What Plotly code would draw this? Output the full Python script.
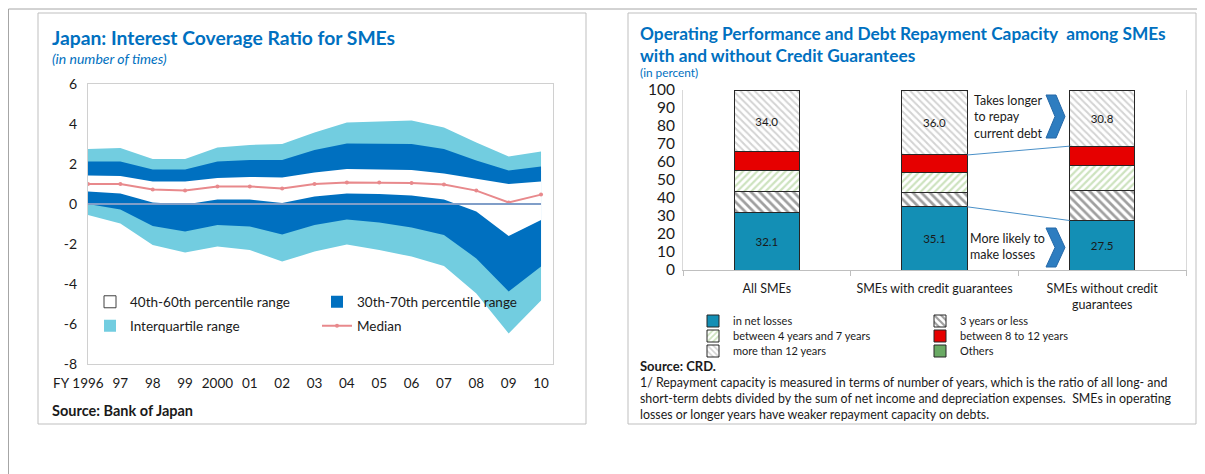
import plotly.graph_objects as go

# ---- left chart: Japan interest coverage ratio (number of times) ----
years = list(range(1996, 2011))
year_labels = ["1996", "97", "98", "99", "2000", "01", "02", "03", "04", "05",
               "06", "07", "08", "09", "10"]
p75 = [2.75, 2.8, 2.25, 2.25, 2.83, 2.95, 3.0, 3.58, 4.08, 4.12, 4.17, 3.83, 3.08, 2.38, 2.63]
p70 = [2.13, 2.13, 1.72, 1.72, 2.12, 2.2, 2.2, 2.7, 3.03, 3.03, 3.0, 2.75, 2.17, 1.67, 1.88]
p60 = [1.43, 1.4, 1.13, 1.12, 1.3, 1.35, 1.33, 1.58, 1.75, 1.72, 1.7, 1.53, 1.28, 1.0, 1.12]
median = [1.0, 1.0, 0.72, 0.67, 0.87, 0.88, 0.78, 1.0, 1.08, 1.07, 1.05, 0.97, 0.67, 0.08, 0.47]
p40 = [0.62, 0.53, 0.08, -0.03, 0.22, 0.22, 0.05, 0.37, 0.53, 0.5, 0.42, 0.22, -0.38, -1.6, -0.8]
p30 = [0.0, -0.27, -1.1, -1.38, -1.05, -1.13, -1.52, -1.05, -0.77, -0.93, -1.17, -1.55, -2.72, -4.38, -3.13]
p25 = [-0.55, -0.97, -2.05, -2.43, -2.13, -2.3, -2.88, -2.38, -2.02, -2.3, -2.63, -3.1, -4.47, -6.47, -4.83]
y_ticks = [-8, -6, -4, -2, 0, 2, 4, 6]

# ---- right chart: repayment capacity (percent) ----
groups = ["All SMEs", "SMEs with credit guarantees", "SMEs without credit<br>guarantees"]
net_losses = [32.1, 35.1, 27.5]
yrs_3 = [11.4, 8.0, 16.9]
yrs_4_7 = [11.7, 11.0, 13.5]
yrs_8_12 = [10.4, 9.8, 10.9]
yrs_12 = [34.0, 36.0, 30.8]
others = [0.4, 0.1, 0.4]

W, H = 1205, 474
OFF = 8  # page body margin
FONT = "Lato"
BLUE = "#0070C0"
LIGHT = "#72CDE0"


def px(x):
    return (x - OFF) / W


def py(y):
    return 1 - (y - OFF) / H


fig = go.Figure()

# bands: light blue 25-75, dark blue 30-70, white 40-60
for lo, hi, col in [(p25, p75, LIGHT), (p30, p70, BLUE), (p40, p60, "white")]:
    fig.add_trace(go.Scatter(x=years, y=lo, mode="lines", line=dict(width=0),
                             showlegend=False, hoverinfo="skip"))
    fig.add_trace(go.Scatter(x=years, y=hi, mode="lines", line=dict(width=0),
                             fill="tonexty", fillcolor=col, showlegend=False))

# legend-only entries for the left chart
fig.add_trace(go.Bar(x=[None], y=[None], name="40th-60th percentile range",
                     marker=dict(color="white", line=dict(color="#404040", width=1)),
                     legend="legend"))
fig.add_trace(go.Bar(x=[None], y=[None], name="30th-70th percentile range",
                     marker=dict(color=BLUE, line=dict(width=0)), legend="legend"))
fig.add_trace(go.Bar(x=[None], y=[None], name="Interquartile range",
                     marker=dict(color=LIGHT, line=dict(width=0)), legend="legend2"))

fig.add_trace(go.Scatter(x=years, y=median, mode="lines+markers", name="Median",
                         line=dict(color="#E8898C", width=2),
                         marker=dict(size=4, color="#E8898C"), legend="legend2"))

# stacked bars on the right
gx = [0, 1, 2]
series = [
    ("in net losses", net_losses, dict(color="#138FB5"), True, "legend3"),
    ("3 years or less", yrs_3, dict(color="white", pattern=dict(shape="\\", fgcolor="#404040", bgcolor="white", size=6, solidity=0.45)), False, "legend3"),
    ("between 4 years and 7 years", yrs_4_7, dict(color="white", pattern=dict(shape="/", fgcolor="#9CC77F", bgcolor="white", size=5, solidity=0.45)), False, "legend4"),
    ("between 8 to 12 years", yrs_8_12, dict(color="#E60000"), False, "legend4"),
    ("more than 12 years", yrs_12, dict(color="white", pattern=dict(shape="\\", fgcolor="#A8A8A8", bgcolor="white", size=5, solidity=0.4)), True, "legend5"),
    ("Others", others, dict(color="#6AAA64"), False, "legend5"),
]
for name, vals, mk, labelled, lg in series:
    mk["line"] = dict(color="#262626", width=1)
    fig.add_trace(go.Bar(
        x=gx, y=vals, name=name, marker=mk, width=0.39, xaxis="x2", yaxis="y2",
        text=[f"{v:.1f}" for v in vals] if labelled else None,
        textposition="inside" if labelled else "none", insidetextanchor="middle",
        textangle=0, textfont=dict(size=11.5, color="#1a1a1a", family=FONT),
        legend=lg))

# connector lines between 2nd and 3rd bar
half = 0.39 / 2
top_812 = [a + b + c + d for a, b, c, d in zip(net_losses, yrs_3, yrs_4_7, yrs_8_12)]
for ys in (top_812, net_losses):
    fig.add_trace(go.Scatter(x=[1 + half, 2 - half], y=[ys[1], ys[2]], mode="lines",
                             line=dict(color="#4A90C8", width=1), showlegend=False,
                             xaxis="x2", yaxis="y2"))

fig.update_layout(
    width=W, height=H, margin=dict(l=0, r=0, t=0, b=0, pad=0),
    paper_bgcolor="white", plot_bgcolor="white",
    font=dict(family=FONT, color="#1a1a1a"),
    barmode="stack",
    xaxis=dict(domain=[px(88), px(553)], range=[1996, 2010.37], tickmode="array",
               tickvals=years, ticktext=year_labels, tickangle=0,
               tickfont=dict(family=FONT, size=13.5, color="#1a1a1a"),
               showgrid=False, zeroline=False, showline=True, mirror=True,
               linecolor="#D0D0D0", ticks="", ticklabelstandoff=7, automargin=False),
    yaxis=dict(domain=[py(364), py(84)], range=[-8, 6], tickmode="array",
               tickvals=y_ticks, ticktext=[str(v) for v in y_ticks],
               tickfont=dict(family=FONT, size=14, color="#1a1a1a"),
               showgrid=False, zeroline=False, showline=True, mirror=True,
               linecolor="#D0D0D0", ticks="", ticklabelstandoff=7, automargin=False),
    xaxis2=dict(domain=[px(683), px(1186)], range=[-0.5, 2.5], tickmode="array",
                tickvals=gx, ticktext=groups, anchor="y2", tickangle=0,
                tickfont=dict(family=FONT, size=12.5, color="#1a1a1a"),
                showgrid=False, zeroline=False, showline=True, linecolor="#BFBFBF",
                ticks="", ticklabelstandoff=7, automargin=False,
                minor=dict(tickvals=[-0.5, 0.5, 1.5, 2.5], ticks="outside",
                           ticklen=5, tickcolor="#BFBFBF")),
    yaxis2=dict(domain=[py(270), py(90)], range=[0, 100], dtick=10, anchor="x2",
                tickfont=dict(family=FONT, size=15.5, color="#1a1a1a"),
                showgrid=False, zeroline=False, showline=True, mirror=True,
                linecolor="#D9D9D9", ticks="", ticklabelstandoff=4, automargin=False),
)

leg = dict(orientation="h", bgcolor="rgba(0,0,0,0)", xanchor="left", yanchor="middle",
           entrywidthmode="pixels", traceorder="normal")
fig.update_layout(
    legend=dict(leg, x=px(90), y=py(302), entrywidth=182, font=dict(family=FONT, size=13.5)),
    legend2=dict(leg, x=px(90), y=py(326), entrywidth=182, font=dict(family=FONT, size=13.5)),
    legend3=dict(leg, x=px(693), y=py(321), entrywidth=182, font=dict(family=FONT, size=11)),
    legend4=dict(leg, x=px(693), y=py(336), entrywidth=182, font=dict(family=FONT, size=11)),
    legend5=dict(leg, x=px(693), y=py(351), entrywidth=182, font=dict(family=FONT, size=11)),
)

# zero line of the left chart
fig.add_shape(type="line", xref="x", yref="y", x0=years[0], x1=years[-1], y0=0, y1=0,
              line=dict(color="#809EC8", width=2))

# frames
fig.add_shape(type="line", xref="paper", yref="paper", x0=px(8.5), x1=px(8.5), y0=0, y1=py(9),
              line=dict(color="#A6A6A6", width=1))
fig.add_shape(type="line", xref="paper", yref="paper", x0=px(8.5), x1=1, y0=py(9), y1=py(9),
              line=dict(color="#A6A6A6", width=1))
for x0, x1 in [(38, 586), (628, 1196)]:
    fig.add_shape(type="rect", xref="paper", yref="paper", x0=px(x0), x1=px(x1),
                  y0=py(424), y1=py(13), line=dict(color="#BFBFBF", width=1))

# chevrons
for top, bot in [(95, 138), (228, 267)]:
    mid = (top + bot) / 2
    pts = [(1046, top), (1056, top), (1065, mid), (1056, bot), (1046, bot), (1055, mid)]
    path = "M" + " L".join(f"{px(a)},{py(b)}" for a, b in pts) + " Z"
    fig.add_shape(type="path", xref="paper", yref="paper", path=path,
                  fillcolor="#2E7DC0", line=dict(color="#2569A8", width=1))


def note(x, y, text, size, color="#1a1a1a", bold=False, italic=False, anchor="left"):
    if bold:
        text = f"<b>{text}</b>"
    if italic:
        text = f"<i>{text}</i>"
    fig.add_annotation(xref="paper", yref="paper", x=px(x), y=py(y), text=text,
                       showarrow=False, xanchor=anchor, yanchor="middle", align="left",
                       font=dict(family=FONT, size=size, color=color))


note(50, 37, "Japan: Interest Coverage Ratio for SMEs", 19.3, BLUE, bold=True)
note(50, 58, "(in number of times)", 14, BLUE, italic=True)
note(72, 383, "FY", 13.5, anchor="right")
note(50, 410, "Source: Bank of Japan", 14.5, bold=True)

note(638, 33, "Operating Performance and Debt Repayment Capacity  among SMEs", 17.3, BLUE, bold=True)
note(638, 55, "with and without Credit Guarantees", 17.3, BLUE, bold=True)
note(638, 72, "(in percent)", 11.8, BLUE)
note(972, 117, "Takes longer<br>to repay<br>current debt", 12.5)
note(968, 247, "More likely to<br>make losses", 12.5)
note(638, 366, "Source: CRD.", 13, bold=True)
note(638, 382, "1/ Repayment capacity is measured in terms of number of years, which is the ratio of all long- and", 12.4)
note(638, 398, "short-term debts divided by the sum of net income and depreciation expenses.  SMEs in operating", 12.4)
note(638, 414, "losses or longer years have weaker repayment capacity on debts.", 12.4)

fig.write_html("out.html")
